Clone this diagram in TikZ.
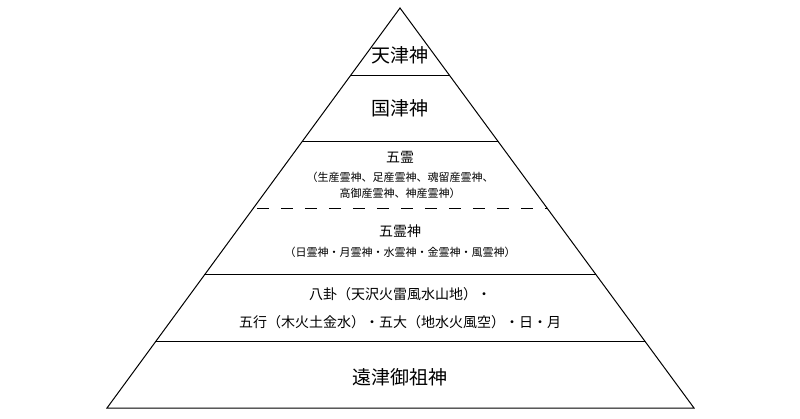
\documentclass[tikz,border=0pt]{standalone}
\usepackage{fontspec}
\setmainfont{Noto Sans CJK JP}
\usetikzlibrary{calc}
\begin{document}
\begin{tikzpicture}[x=1pt,y=-1pt,line width=1pt,
    big/.style={font=\fontsize{19}{22}\selectfont,inner sep=0pt},
    mid/.style={font=\fontsize{14}{16}\selectfont,inner sep=0pt},
    small/.style={font=\fontsize{11}{13}\selectfont,inner sep=0pt}]
    \useasboundingbox (0,0) rectangle (800,419);
    %pyramid
    \coordinate (apex) at (400,8);
    \coordinate (baseL) at (107,408);
    \coordinate (baseR) at (694,408);
    \draw (apex) -- (baseL) -- (baseR) -- cycle;
    %layer lines
    \foreach \y/\n in {76/one,142/two,209/three,275/four,342/five}{
        \coordinate (\n L) at ($(apex)!{(\y-8)/400}!(baseL)$);
        \coordinate (\n R) at ($(apex)!{(\y-8)/400}!(baseR)$);
    }
    \draw (oneL) -- (oneR);
    \draw (twoL) -- (twoR);
    \draw [dash pattern={on 12pt off 12pt},dash phase=-4pt] (threeL) -- (threeR);
    \draw (fourL) -- (fourR);
    \draw (fiveL) -- (fiveR);
    % text
    \node [big] (tentsu) at (400,55) {天津神};
    \node [big] (kunitsu) at (400,108) {国津神};
    \node [mid] (gorei) at (400,157) {五霊};
    \node [small] (gorei1) at (400,177) {（生産霊神、足産霊神、魂留産霊神、};
    \node [small] (gorei2) at (400,193) {高御産霊神、神産霊神）};
    \node [mid] (goreishin) at (400,231) {五霊神};
    \node [small] (goreishin1) at (400,252) {（日霊神・月霊神・水霊神・金霊神・風霊神）};
    \node [mid] (hakke) at (400,294) {八卦（天沢火雷風水山地）・};
    \node [mid] (gogyo) at (400,322) {五行（木火土金水）・五大（地水火風空）・日・月};
    \node [big] (tootsu) at (400,377) {遠津御祖神};
\end{tikzpicture}
\end{document}
